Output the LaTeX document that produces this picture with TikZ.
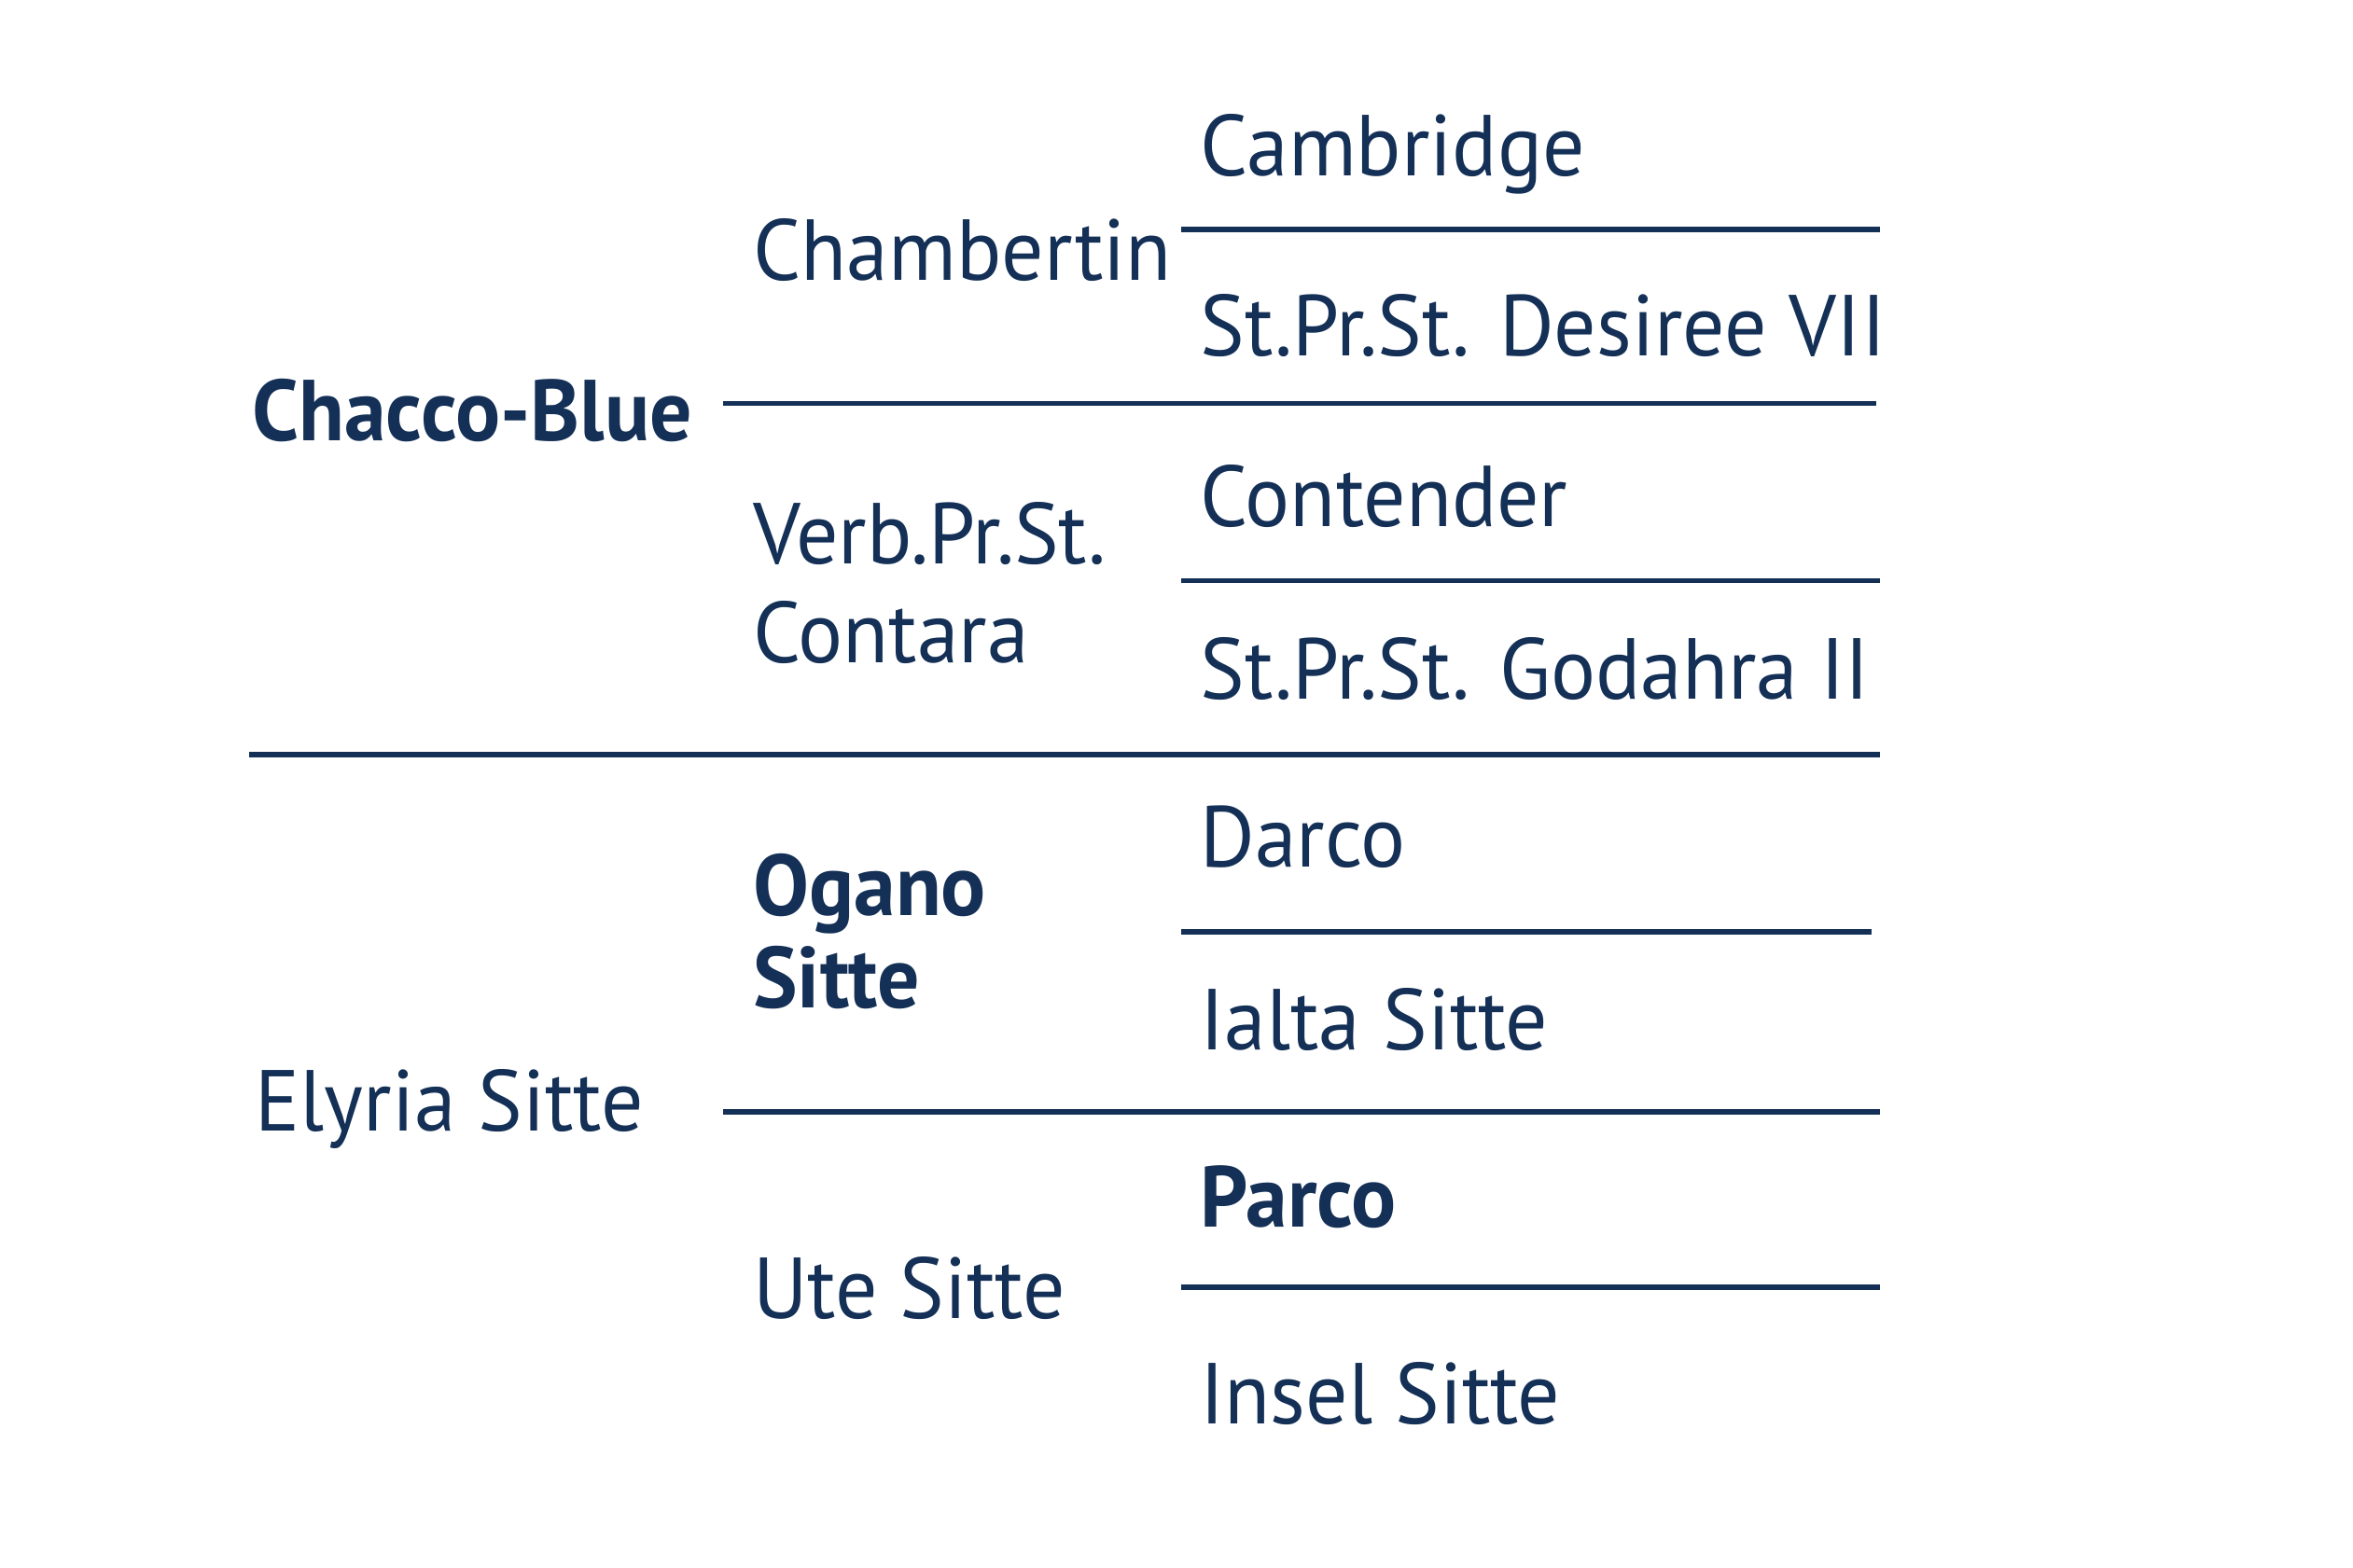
\documentclass[tikz,border=0pt]{standalone}
\usepackage{fontspec}
\setmainfont[FakeStretch=0.967]{PT Sans}
\definecolor{navy}{RGB}{20,48,86}
\tikzset{
  lbl/.style={anchor=base west, inner sep=0pt, outer sep=0pt, text=navy, font=\fontsize{16.4}{18.8}\selectfont},
  bl/.style={lbl, font=\fontsize{16.4}{17.6}\selectfont\bfseries},
  sep/.style={draw=navy, line width=1pt}
}
\begin{document}
\begin{tikzpicture}[x=0.01cm,y=-0.01cm]
\useasboundingbox (0,0) rectangle (1568,1045);
% generation 3
\node[lbl] (cam) at (800,117) {Cambridge};
\node[lbl] (des) at (800,237) {St.Pr.St. Desiree VII};
\node[lbl] (con) at (800,351) {Contender};
\node[lbl] (god) at (800,466) {St.Pr.St. Godahra II};
\node[lbl] (dar) at (800,578) {Darco};
\node[lbl] (ial) at (800,700) {Ialta Sitte};
\node[bl]  (par) at (800,818) {Parco};
\node[lbl] (ins) at (800,949) {Insel Sitte};
% generation 2
\node[lbl] (cha) at (502,187) {Chambertin};
\node[lbl, align=left] (ver) at (502,442) {Verb.Pr.St.\\Contara};
\node[bl, align=left] (oga) at (502,672) {Ogano\\Sitte};
\node[lbl] (ute) at (502,879) {Ute Sitte};
% generation 1
\node[bl] (cb) at (168,294) {Chacco-Blue};
\node[lbl] (ely) at (170,754) {Elyria Sitte};
% separators
\coordinate (a1) at (787,153);  \coordinate (a2) at (1253,153);
\coordinate (b1) at (482,269);  \coordinate (b2) at (1250,269);
\coordinate (c1) at (787,387);  \coordinate (c2) at (1253,387);
\coordinate (d1) at (166,503);  \coordinate (d2) at (1253,503);
\coordinate (e1) at (787,621);  \coordinate (e2) at (1247,621);
\coordinate (f1) at (482,741);  \coordinate (f2) at (1253,741);
\coordinate (g1) at (787,858);  \coordinate (g2) at (1253,858);
\draw[sep] (a1) -- (a2);
\draw[sep] (b1) -- (b2);
\draw[sep] (c1) -- (c2);
\draw[sep] (d1) -- (d2);
\draw[sep] (e1) -- (e2);
\draw[sep] (f1) -- (f2);
\draw[sep] (g1) -- (g2);
\end{tikzpicture}
\end{document}
